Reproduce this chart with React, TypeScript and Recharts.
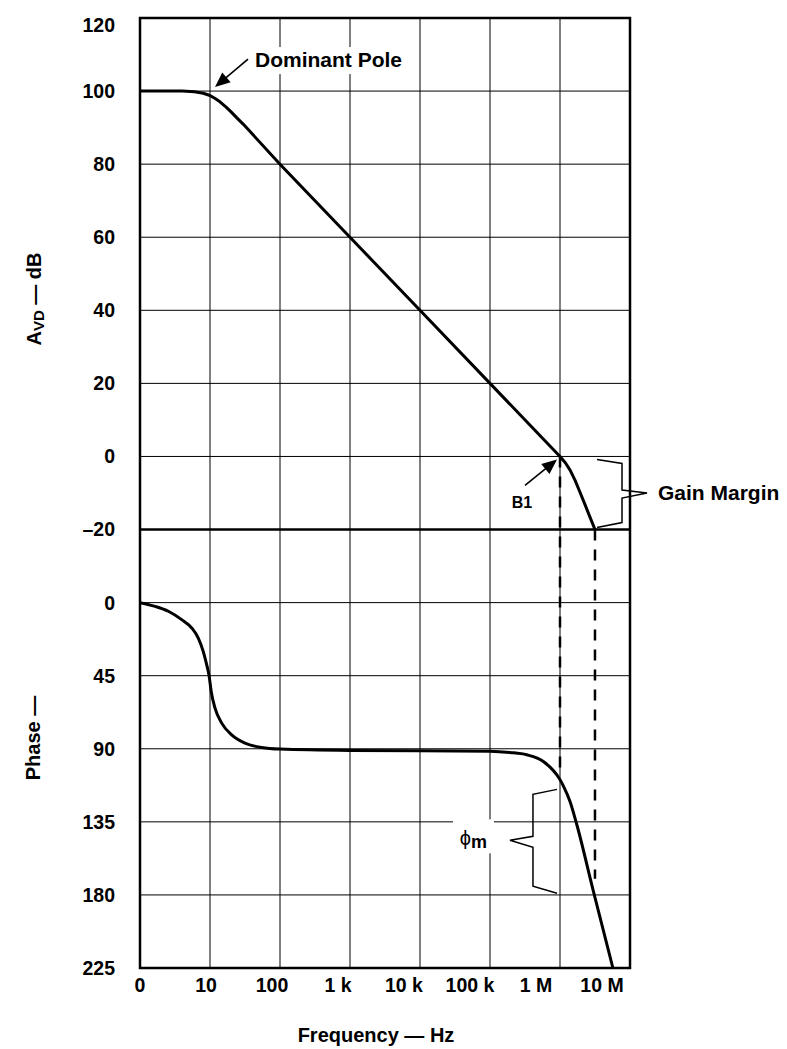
import React from 'react';
import {
  LineChart, Line, XAxis, YAxis, CartesianGrid, ReferenceLine, ReferenceArea, ReferenceDot, Customized,
} from 'recharts';

const FONT = '"Liberation Sans", Arial, Helvetica, sans-serif';

// ---- axes ----
const freqTicks = [1, 10, 100, 1e3, 1e4, 1e5, 1e6, 1e7];
const freqTickLabels = ['0', '10', '100', '1 k', '10 k', '100 k', '1 M', '10 M'];
const gainTicks = [120, 100, 80, 60, 40, 20, 0, -20];
const phaseTicks = [0, 45, 90, 135, 180, 225];
const GAIN_DOMAIN: [number, number] = [-140, 120];
const PHASE_DOMAIN: [number, number] = [-360, 225];

// ---- series ----
const gainFreq = [1, 4, 6, 8, 10, 12, 14, 17, 20, 25, 30, 40, 100, 1e3, 1e4, 1e5, 1e6, 1.2e6, 1.4e6, 1.65e6, 1.93e6, 2.3e6, 2.68e6, 3.16e6];
const gainDb = [100, 100, 99.8, 99.4, 98.8, 97.9, 97.0, 95.6, 94.3, 92.4, 90.9, 88.3, 80, 60, 40, 20, 0, -1.8, -3.8, -6.6, -9.8, -13.4, -16.6, -20];

const phaseFreq = [1, 1.64, 2.54, 3.94, 5.48, 6.8, 8.0, 8.96, 9.7, 10.4, 11.8, 14.7, 20.4, 31.6, 54.7, 100, 1e3, 1e4, 1e5, 1.92e5, 3.34e5, 5.78e5, 1e6, 1.12e6, 1.39e6, 1.74e6, 2.97e6, 5.7e6];
const phaseDeg = [0, 2.3, 5.3, 10.5, 15.6, 21.8, 30, 38.2, 45, 54.7, 65, 74.2, 81.4, 86.5, 89.2, 90.2, 91, 91.2, 91.5, 92.3, 93.7, 97.8, 109, 113, 122.5, 136.8, 177, 225];

// ---- annotations ----
const dominantPole = { f: 10, gain: 100 };
const unityGain = { f: 1e6, gain: 0 };
const gainMarginPoint = { f: 3.16e6, gain: -20 };
const crossDash1 = { f: 1e6, fromGain: 0, toPhase: 105 };
const crossDash2 = { f: 3.16e6, fromGain: -20, toPhase: 170 };
const gainMarginBrace = { f1: 3.38e6, f2: 7.69e6, top: 0, bottom: -20 };
const phaseMarginBrace = { f1: 4.11e5, f2: 9.06e5, top: 115, bottom: 179 };

const gainData = gainFreq.map((f, i) => ({ f, gain: gainDb[i] }));
const phaseData = phaseFreq.map((f, i) => ({ f, phase: phaseDeg[i] }));

// convert between the two stacked vertical scales
const gainToPhaseAxis = (g: number) =>
  PHASE_DOMAIN[0] + ((GAIN_DOMAIN[1] - g) / (GAIN_DOMAIN[1] - GAIN_DOMAIN[0])) * (PHASE_DOMAIN[1] - PHASE_DOMAIN[0]);
const phaseToGainAxis = (p: number) =>
  GAIN_DOMAIN[1] - ((p - PHASE_DOMAIN[0]) / (PHASE_DOMAIN[1] - PHASE_DOMAIN[0])) * (GAIN_DOMAIN[1] - GAIN_DOMAIN[0]);

const fmtNum = (v: number) => (v < 0 ? '\u2013' + Math.abs(v) : String(v));
const yTickEntries = [
  ...gainTicks.map((g) => ({ pos: g, label: fmtNum(g) })),
  ...phaseTicks.map((p) => ({ pos: phaseToGainAxis(p), label: String(p) })),
];
const yTickPositions = yTickEntries.map((e) => e.pos);

const TICK_FS = 19.5;

const YTick = (props: any) => {
  const { x, y, payload } = props;
  const e = yTickEntries.find((t) => Math.abs(t.pos - payload.value) < 1e-6);
  const extra = payload.value === GAIN_DOMAIN[1] ? 7 : 0;
  return (
    <text x={x} y={y + extra} dy="0.355em" textAnchor="end" fontSize={TICK_FS} fontWeight="bold" fontFamily={FONT} fill="#000">
      {e ? e.label : ''}
    </text>
  );
};

const XTick = (props: any) => {
  const { x, y, payload } = props;
  const i = freqTicks.indexOf(payload.value);
  return (
    <text x={x - i * 4} y={y} dy="0.71em" textAnchor="middle" fontSize={TICK_FS} fontWeight="bold" fontFamily={FONT} fill="#000">
      {i >= 0 ? freqTickLabels[i] : ''}
    </text>
  );
};

const Arrow = ({ x1, y1, x2, y2 }: { x1: number; y1: number; x2: number; y2: number }) => {
  const dx = x2 - x1;
  const dy = y2 - y1;
  const len = Math.sqrt(dx * dx + dy * dy);
  const ux = dx / len;
  const uy = dy / len;
  const hl = 15;
  const hw = 6.5;
  const bx = x2 - ux * hl;
  const by = y2 - uy * hl;
  const pts = `${x2},${y2} ${bx - uy * hw},${by + ux * hw} ${bx + uy * hw},${by - ux * hw}`;
  return (
    <g>
      <line x1={x1} y1={y1} x2={bx + ux * 2} y2={by + uy * 2} stroke="#000" strokeWidth={1.6} />
      <polygon points={pts} fill="#000" />
    </g>
  );
};

const DominantPoleShape = (props: any) => {
  const { cx, cy } = props;
  return (
    <g>
      <rect x={cx + 40} y={cy - 44} width={162} height={27} fill="#fff" />
      <Arrow x1={cx + 38} y1={cy - 32} x2={cx + 5} y2={cy - 4} />
      <text x={cx + 45} y={cy - 32} dy="0.355em" fontSize={21} fontWeight="bold" fontFamily={FONT} fill="#000">
        Dominant Pole
      </text>
    </g>
  );
};

const B1Shape = (props: any) => {
  const { cx, cy } = props;
  return (
    <g>
      <Arrow x1={cx - 35} y1={cy + 29} x2={cx - 3} y2={cy + 3} />
      <text x={cx - 38} y={cy + 46} dy="0.355em" textAnchor="middle" fontSize={16} fontWeight="bold" fontFamily={FONT} fill="#000">
        B1
      </text>
    </g>
  );
};

const GainMarginShape = (props: any) => {
  const { x, y, width: w, height: h } = props;
  const m = y + h / 2;
  const d = `M${x},${y + 3} L${x + w},${y + 7} L${x + w},${m - 3} L${x + w + 25},${m} L${x + w},${m + 5} L${x + w},${y + h - 7} L${x},${y + h - 2}`;
  return (
    <g>
      <path d={d} fill="none" stroke="#000" strokeWidth={1.5} />
      <text x={x + w + 36} y={m} dy="0.355em" fontSize={21} fontWeight="bold" fontFamily={FONT} fill="#000">
        Gain Margin
      </text>
    </g>
  );
};

const PhaseMarginShape = (props: any) => {
  const { x, y, width: w, height: h } = props;
  const m = y + h / 2;
  const d = `M${x + w},${y} L${x},${y + 5} L${x},${m - 5} L${x - 23},${m - 1} L${x},${m + 6} L${x},${y + h - 7} L${x + w},${y + h}`;
  return (
    <g>
      <rect x={x - 80} y={m - 22} width={41} height={34} fill="#fff" />
      <path d={d} fill="none" stroke="#000" strokeWidth={1.5} />
      <text x={x - 46} y={m + 4} textAnchor="end" fontFamily={FONT} fill="#000">
        <tspan fontSize={20}>ϕ</tspan>
        <tspan fontSize={18} fontWeight="bold" dy={3}>m</tspan>
      </text>
    </g>
  );
};

const AxisTitles = () => (
  <g fontFamily={FONT} fill="#000" fontWeight="bold">
    <text transform="rotate(-90 41 299)" x={41} y={299} textAnchor="middle" fontSize={20}>
      A<tspan fontSize={15} dy={3}>VD</tspan>
      <tspan dy={-3}> — dB</tspan>
    </text>
    <text transform="rotate(-90 40 738)" x={40} y={738} textAnchor="middle" fontSize={20}>
      Phase —
    </text>
    <text x={376} y={1042} textAnchor="middle" fontSize={20}>
      Frequency — Hz
    </text>
  </g>
);

export default function App() {
  return (
    <div style={{ position: 'absolute', left: 0, top: 0, width: 787, height: 1049, background: '#fff' }}>
      <LineChart width={787} height={1049} margin={{ top: 18, right: 157, bottom: 41, left: 60 }}>
        <CartesianGrid yAxisId="gain" stroke="#000" strokeWidth={1} horizontal vertical />
        <XAxis
          dataKey="f"
          type="number"
          scale="log"
          domain={[1, 1e7]}
          allowDataOverflow
          ticks={freqTicks}
          interval={0}
          height={40}
          axisLine={false}
          tickLine={false}
          tickSize={0}
          tickMargin={10}
          tick={<XTick />}
        />
        <YAxis
          yAxisId="gain"
          type="number"
          domain={GAIN_DOMAIN}
          allowDataOverflow
          ticks={yTickPositions}
          interval={0}
          width={80}
          axisLine={false}
          tickLine={false}
          tickSize={0}
          tickMargin={25}
          tick={<YTick />}
        />
        <YAxis yAxisId="phase" type="number" domain={PHASE_DOMAIN} allowDataOverflow reversed hide />
        <ReferenceLine yAxisId="gain" y={gainMarginPoint.gain} stroke="#000" strokeWidth={2.5} />
        <ReferenceArea
          yAxisId="gain"
          x1={freqTicks[0]}
          x2={freqTicks[freqTicks.length - 1]}
          y1={GAIN_DOMAIN[0]}
          y2={GAIN_DOMAIN[1]}
          fill="none"
          stroke="#000"
          strokeWidth={2.5}
          fillOpacity={0}
        />
        <ReferenceLine
          yAxisId="phase"
          segment={[
            { x: crossDash1.f, y: gainToPhaseAxis(crossDash1.fromGain) },
            { x: crossDash1.f, y: crossDash1.toPhase },
          ]}
          stroke="#000"
          strokeWidth={2.5}
          strokeDasharray="11 9"
        />
        <ReferenceLine
          yAxisId="phase"
          segment={[
            { x: crossDash2.f, y: gainToPhaseAxis(crossDash2.fromGain) },
            { x: crossDash2.f, y: crossDash2.toPhase },
          ]}
          stroke="#000"
          strokeWidth={2.5}
          strokeDasharray="11 9"
        />
        <Line
          yAxisId="gain"
          data={gainData}
          dataKey="gain"
          type="linear"
          stroke="#000"
          strokeWidth={3}
          strokeLinejoin="round"
          dot={false}
          isAnimationActive={false}
        />
        <Line
          yAxisId="phase"
          data={phaseData}
          dataKey="phase"
          type="monotone"
          stroke="#000"
          strokeWidth={3}
          dot={false}
          isAnimationActive={false}
        />
        <ReferenceDot yAxisId="gain" x={dominantPole.f} y={dominantPole.gain} r={0} shape={DominantPoleShape} />
        <ReferenceDot yAxisId="gain" x={unityGain.f} y={unityGain.gain} r={0} shape={B1Shape} />
        <ReferenceArea
          yAxisId="gain"
          x1={gainMarginBrace.f1}
          x2={gainMarginBrace.f2}
          y1={gainMarginBrace.top}
          y2={gainMarginBrace.bottom}
          shape={GainMarginShape}
        />
        <ReferenceArea
          yAxisId="phase"
          x1={phaseMarginBrace.f1}
          x2={phaseMarginBrace.f2}
          y1={phaseMarginBrace.top}
          y2={phaseMarginBrace.bottom}
          shape={PhaseMarginShape}
        />
        <Customized component={AxisTitles} />
      </LineChart>
    </div>
  );
}
